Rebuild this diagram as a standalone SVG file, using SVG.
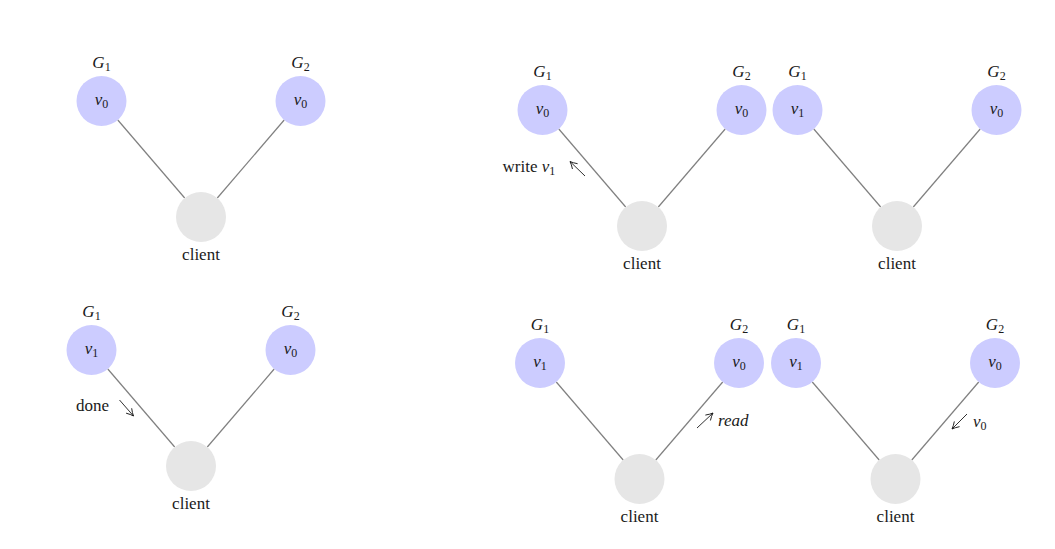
<svg xmlns="http://www.w3.org/2000/svg" width="1055" height="549" viewBox="0 0 1055 549">
  <style>
    text { font-family: "Liberation Serif", "DejaVu Serif", serif; font-size: 17px; fill: #1a1a1a; }
    .lbl { text-anchor: middle; }
    .it { font-style: italic; }
    .sub { font-size: 12px; }
    .server { fill: #ccccff; }
    .client { fill: #e6e6e6; }
    .link { stroke: #808080; stroke-width: 1.2; fill: none; }
    .msg { stroke: #1a1a1a; stroke-width: 0.9; fill: none; marker-end: url(#head); }
  </style>
  <defs>
    <marker id="head" viewBox="0 0 9 9" refX="8" refY="4.5" markerWidth="9" markerHeight="9" markerUnits="userSpaceOnUse" orient="auto">
      <path d="M1,0.8 Q5,3.5 8,4.5 Q5,5.5 1,8.2" fill="none" stroke="#1a1a1a" stroke-width="0.9"/>
    </marker>
  </defs>
  <rect width="1055" height="549" fill="#ffffff"/>

  <!-- Panel 1: both replicas hold v0 -->
  <g id="panel1" transform="translate(101.5,101)">
    <g id="p1-links">
      <line class="link" x1="16.3" y1="19" x2="83.2" y2="97"/>
      <line class="link" x1="182.7" y1="19" x2="115.8" y2="97"/>
    </g>
    <g id="p1-G1">
      <circle class="server" cx="0" cy="0" r="25"/>
      <text class="lbl" x="0" y="-33"><tspan class="it">G</tspan><tspan class="sub" dy="3">1</tspan></text>
      <text class="lbl" x="0" y="4"><tspan class="it">v</tspan><tspan class="sub" dy="3">0</tspan></text>
    </g>
    <g id="p1-G2">
      <circle class="server" cx="199" cy="0" r="25"/>
      <text class="lbl" x="199" y="-33"><tspan class="it">G</tspan><tspan class="sub" dy="3">2</tspan></text>
      <text class="lbl" x="199" y="4"><tspan class="it">v</tspan><tspan class="sub" dy="3">0</tspan></text>
    </g>
    <g id="p1-client">
      <circle class="client" cx="99.5" cy="116" r="25"/>
      <text class="lbl" x="99.5" y="159">client</text>
    </g>
  </g>

  <!-- Panel 2: client writes v1 to G1 -->
  <g id="panel2" transform="translate(542.5,110)">
    <g id="p2-links">
      <line class="link" x1="16.3" y1="19" x2="83.2" y2="97"/>
      <line class="link" x1="182.7" y1="19" x2="115.8" y2="97"/>
      <line class="msg" x1="42.5" y1="66" x2="27.5" y2="51.5"/>
      <text x="-40" y="62">write <tspan class="it">v</tspan><tspan class="sub" dy="3">1</tspan></text>
    </g>
    <g id="p2-G1">
      <circle class="server" cx="0" cy="0" r="25"/>
      <text class="lbl" x="0" y="-33"><tspan class="it">G</tspan><tspan class="sub" dy="3">1</tspan></text>
      <text class="lbl" x="0" y="4"><tspan class="it">v</tspan><tspan class="sub" dy="3">0</tspan></text>
    </g>
    <g id="p2-G2">
      <circle class="server" cx="199" cy="0" r="25"/>
      <text class="lbl" x="199" y="-33"><tspan class="it">G</tspan><tspan class="sub" dy="3">2</tspan></text>
      <text class="lbl" x="199" y="4"><tspan class="it">v</tspan><tspan class="sub" dy="3">0</tspan></text>
    </g>
    <g id="p2-client">
      <circle class="client" cx="99.5" cy="116" r="25"/>
      <text class="lbl" x="99.5" y="159">client</text>
    </g>
  </g>

  <!-- Panel 3: G1 now holds v1 -->
  <g id="panel3" transform="translate(797.5,110)">
    <g id="p3-links">
      <line class="link" x1="16.3" y1="19" x2="83.2" y2="97"/>
      <line class="link" x1="182.7" y1="19" x2="115.8" y2="97"/>
    </g>
    <g id="p3-G1">
      <circle class="server" cx="0" cy="0" r="25"/>
      <text class="lbl" x="0" y="-33"><tspan class="it">G</tspan><tspan class="sub" dy="3">1</tspan></text>
      <text class="lbl" x="0" y="4"><tspan class="it">v</tspan><tspan class="sub" dy="3">1</tspan></text>
    </g>
    <g id="p3-G2">
      <circle class="server" cx="199" cy="0" r="25"/>
      <text class="lbl" x="199" y="-33"><tspan class="it">G</tspan><tspan class="sub" dy="3">2</tspan></text>
      <text class="lbl" x="199" y="4"><tspan class="it">v</tspan><tspan class="sub" dy="3">0</tspan></text>
    </g>
    <g id="p3-client">
      <circle class="client" cx="99.5" cy="116" r="25"/>
      <text class="lbl" x="99.5" y="159">client</text>
    </g>
  </g>

  <!-- Panel 4: G1 acknowledges the write -->
  <g id="panel4" transform="translate(91.5,350)">
    <g id="p4-links">
      <line class="link" x1="16.3" y1="19" x2="83.2" y2="97"/>
      <line class="link" x1="182.7" y1="19" x2="115.8" y2="97"/>
      <line class="msg" x1="28" y1="50" x2="42" y2="66"/>
      <text x="-15.5" y="61">done</text>
    </g>
    <g id="p4-G1">
      <circle class="server" cx="0" cy="0" r="25"/>
      <text class="lbl" x="0" y="-33"><tspan class="it">G</tspan><tspan class="sub" dy="3">1</tspan></text>
      <text class="lbl" x="0" y="4"><tspan class="it">v</tspan><tspan class="sub" dy="3">1</tspan></text>
    </g>
    <g id="p4-G2">
      <circle class="server" cx="199" cy="0" r="25"/>
      <text class="lbl" x="199" y="-33"><tspan class="it">G</tspan><tspan class="sub" dy="3">2</tspan></text>
      <text class="lbl" x="199" y="4"><tspan class="it">v</tspan><tspan class="sub" dy="3">0</tspan></text>
    </g>
    <g id="p4-client">
      <circle class="client" cx="99.5" cy="116" r="25"/>
      <text class="lbl" x="99.5" y="159">client</text>
    </g>
  </g>

  <!-- Panel 5: client reads from G2 -->
  <g id="panel5" transform="translate(540,363)">
    <g id="p5-links">
      <line class="link" x1="16.3" y1="19" x2="83.2" y2="97"/>
      <line class="link" x1="182.7" y1="19" x2="115.8" y2="97"/>
      <line class="msg" x1="157" y1="65" x2="173" y2="50"/>
      <text class="it" x="178" y="63">read</text>
    </g>
    <g id="p5-G1">
      <circle class="server" cx="0" cy="0" r="25"/>
      <text class="lbl" x="0" y="-33"><tspan class="it">G</tspan><tspan class="sub" dy="3">1</tspan></text>
      <text class="lbl" x="0" y="4"><tspan class="it">v</tspan><tspan class="sub" dy="3">1</tspan></text>
    </g>
    <g id="p5-G2">
      <circle class="server" cx="199" cy="0" r="25"/>
      <text class="lbl" x="199" y="-33"><tspan class="it">G</tspan><tspan class="sub" dy="3">2</tspan></text>
      <text class="lbl" x="199" y="4"><tspan class="it">v</tspan><tspan class="sub" dy="3">0</tspan></text>
    </g>
    <g id="p5-client">
      <circle class="client" cx="99.5" cy="116" r="25"/>
      <text class="lbl" x="99.5" y="159">client</text>
    </g>
  </g>

  <!-- Panel 6: G2 answers with the stale v0 -->
  <g id="panel6" transform="translate(796,363)">
    <g id="p6-links">
      <line class="link" x1="16.3" y1="19" x2="83.2" y2="97"/>
      <line class="link" x1="182.7" y1="19" x2="115.8" y2="97"/>
      <line class="msg" x1="171" y1="51" x2="156" y2="66"/>
      <text x="177" y="64"><tspan class="it">v</tspan><tspan class="sub" dy="3">0</tspan></text>
    </g>
    <g id="p6-G1">
      <circle class="server" cx="0" cy="0" r="25"/>
      <text class="lbl" x="0" y="-33"><tspan class="it">G</tspan><tspan class="sub" dy="3">1</tspan></text>
      <text class="lbl" x="0" y="4"><tspan class="it">v</tspan><tspan class="sub" dy="3">1</tspan></text>
    </g>
    <g id="p6-G2">
      <circle class="server" cx="199" cy="0" r="25"/>
      <text class="lbl" x="199" y="-33"><tspan class="it">G</tspan><tspan class="sub" dy="3">2</tspan></text>
      <text class="lbl" x="199" y="4"><tspan class="it">v</tspan><tspan class="sub" dy="3">0</tspan></text>
    </g>
    <g id="p6-client">
      <circle class="client" cx="99.5" cy="116" r="25"/>
      <text class="lbl" x="99.5" y="159">client</text>
    </g>
  </g>
</svg>
